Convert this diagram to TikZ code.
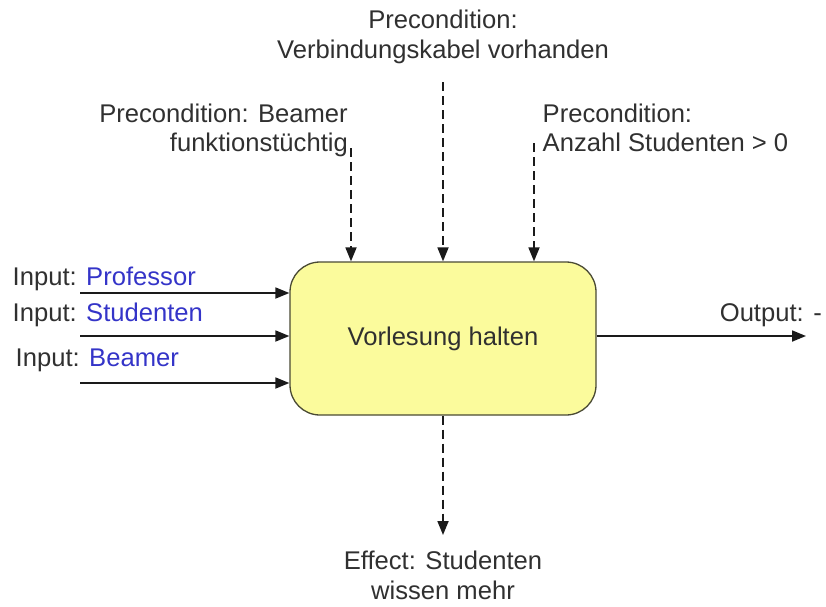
\documentclass[tikz,border=0pt]{standalone}
\usepackage{fontspec}
\setmainfont{Liberation Sans}
\usetikzlibrary{arrows.meta}
\definecolor{txtgray}{HTML}{303030}
\definecolor{namblue}{HTML}{3434C8}
\definecolor{boxfill}{HTML}{FBFB9C}
\definecolor{boxline}{HTML}{4A4A34}
\definecolor{lineblack}{HTML}{1A1A1A}
\begin{document}
\begin{tikzpicture}[x=1pt,y=-1pt,
  lbl/.style={inner sep=0pt,text=txtgray,font=\fontsize{25.6}{29.5}\selectfont},
  procbox/.style={draw=boxline,line width=1.3pt,fill=boxfill,rounded corners=30pt,
    minimum width=306pt,minimum height=153pt,inner sep=0pt,
    text=txtgray,font=\fontsize{25.6}{29.5}\selectfont},
  flow/.style={draw=lineblack,line width=1.8pt,-{Triangle[length=14pt,width=11pt]}},
  condflow/.style={flow,dash pattern=on 9pt off 5pt},
  nm/.style={text=namblue}]
  \useasboundingbox (0,0) rectangle (826,606);

  % central activity
  \node[procbox] (proc) at (443,338.5) {Vorlesung halten};

  % inputs
  \node[lbl,anchor=base west] (inA) at (12.5,285) {Input: \textcolor{namblue}{Professor}};
  \node[lbl,anchor=base west] (inB) at (12.5,321.7) {Input: \textcolor{namblue}{Studenten}};
  \node[lbl,anchor=base west] (inC) at (15.5,366.7) {Input: \textcolor{namblue}{Beamer}};
  \coordinate (srcA) at (80,293);
  \coordinate (srcB) at (80,336);
  \coordinate (srcC) at (80,383);
  \draw[flow] (srcA) -- (srcA -| proc.west);
  \draw[flow] (srcB) -- (srcB -| proc.west);
  \draw[flow] (srcC) -- (srcC -| proc.west);

  % output
  \node[lbl,anchor=base east] (outL) at (822,321.7) {Output: -};
  \coordinate (dstO) at (806,336);
  \draw[flow] (proc.east |- dstO) -- (dstO);

  % preconditions
  \node[lbl,anchor=north,align=center] (preV) at (443,10)
    {Precondition:\\Verbindungskabel vorhanden};
  \node[lbl,anchor=north east,align=right] (preB) at (348,103.5)
    {Precondition: Beamer\\funktionstüchtig};
  \node[lbl,anchor=north west,align=left] (preA) at (542.5,103.5)
    {Precondition:\\Anzahl Studenten > 0};
  \coordinate (topB) at (351,148);
  \coordinate (topV) at (443,82);
  \coordinate (topA) at (534,143);
  \draw[condflow] (topB) -- (topB |- proc.north);
  \draw[condflow] (topV) -- (topV |- proc.north);
  \draw[condflow] (topA) -- (topA |- proc.north);

  % effect
  \node[lbl,anchor=north,align=center] (eff) at (443,551)
    {Effect: Studenten\\wissen mehr};
  \coordinate (botE) at (443,535);
  \draw[condflow] (proc.south) -- (botE);
\end{tikzpicture}
\end{document}
